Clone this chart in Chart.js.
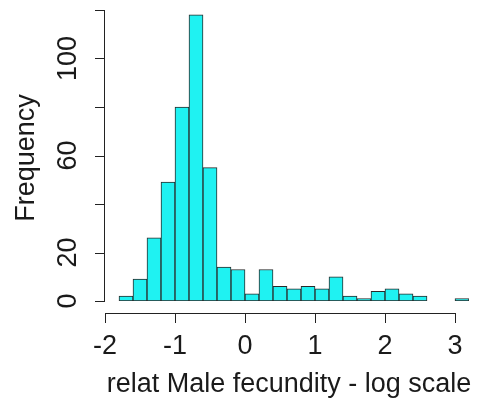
<!DOCTYPE html>
<html>
<head>
<meta charset="utf-8">
<script src="https://cdn.jsdelivr.net/npm/chart.js@4"></script>
<style>
  html, body { margin: 0; padding: 0; background: #fff; }
  #wrap { width: 485px; height: 407px; }
</style>
</head>
<body>
<div id="wrap"><canvas id="hist"></canvas></div>
<script>
// histogram bins (0.2 wide), left edges from -1.8 to 3.0
const binStarts = [-1.8, -1.6, -1.4, -1.2, -1.0, -0.8, -0.6, -0.4, -0.2, 0.0, 0.2, 0.4, 0.6,
                   0.8, 1.0, 1.2, 1.4, 1.6, 1.8, 2.0, 2.2, 2.4, 2.6, 2.8, 3.0];
const counts = [2, 9, 26, 49, 80, 118, 55, 14, 13, 3, 13, 6, 5,
                6, 5, 10, 2, 1, 4, 5, 3, 2, 0, 0, 1];
const xTicks = [-2, -1, 0, 1, 2, 3];
const yTicks = [0, 20, 40, 60, 80, 100, 120];
const yLabels = ['0', '20', '', '60', '', '100', ''];
const binWidth = 0.2;

const FONT = '"Liberation Sans", Arial, sans-serif';

// R-style axes drawn from the chart's own scales
const rAxes = {
  id: 'rAxes',
  afterDraw(chart) {
    const c = chart.ctx;
    const xs = chart.scales.x, ys = chart.scales.y;
    const axY = 313, axX = 104, tl = 9;
    c.save();
    c.strokeStyle = '#222';
    c.fillStyle = '#1a1a1a';
    c.lineWidth = 1;
    // x axis
    c.beginPath();
    c.moveTo(Math.round(xs.getPixelForValue(xTicks[0])), axY + 0.5);
    c.lineTo(Math.round(xs.getPixelForValue(xTicks[xTicks.length - 1])) + 1, axY + 0.5);
    xTicks.forEach(t => {
      const px = Math.round(xs.getPixelForValue(t)) + 0.5;
      c.moveTo(px, axY);
      c.lineTo(px, axY + tl + 1);
    });
    c.stroke();
    c.font = '27px ' + FONT;
    c.textAlign = 'center';
    c.textBaseline = 'middle';
    xTicks.forEach(t => c.fillText(String(t), xs.getPixelForValue(t), 347));
    c.fillText('relat Male fecundity - log scale', 289, 385);
    // y axis
    c.beginPath();
    c.moveTo(axX + 0.5, Math.round(ys.getPixelForValue(yTicks[0])) + 1);
    c.lineTo(axX + 0.5, Math.round(ys.getPixelForValue(yTicks[yTicks.length - 1])));
    yTicks.forEach(t => {
      const py = Math.round(ys.getPixelForValue(t)) + 0.5;
      c.moveTo(axX + 1, py);
      c.lineTo(axX - tl, py);
    });
    c.stroke();
    yTicks.forEach((t, i) => {
      if (!yLabels[i]) return;
      c.save();
      c.translate(69, ys.getPixelForValue(t));
      c.rotate(-Math.PI / 2);
      c.fillText(yLabels[i], 0, 0);
      c.restore();
    });
    c.save();
    c.translate(27, 158);
    c.rotate(-Math.PI / 2);
    c.fillText('Frequency', 0, 0);
    c.restore();
    c.restore();
  }
};

new Chart(document.getElementById('hist'), {
  type: 'bar',
  data: {
    datasets: [{
      data: binStarts.map((s, i) => ({ x: s + binWidth / 2, y: counts[i] })),
      backgroundColor: '#1ff2f2',
      borderColor: '#2a2a2a',
      borderWidth: 1,
      borderSkipped: false,
      barPercentage: 1,
      categoryPercentage: 1
    }]
  },
  options: {
    responsive: true,
    maintainAspectRatio: false,
    animation: false,
    layout: { padding: { left: 105, right: 16, top: 10, bottom: 106 } },
    plugins: { legend: { display: false }, tooltip: { enabled: false } },
    scales: {
      x: { type: 'linear', min: -2, max: 3.2, offset: false, display: false },
      y: { min: 0, max: 120, display: false }
    }
  },
  plugins: [rAxes]
});
</script>
</body>
</html>
